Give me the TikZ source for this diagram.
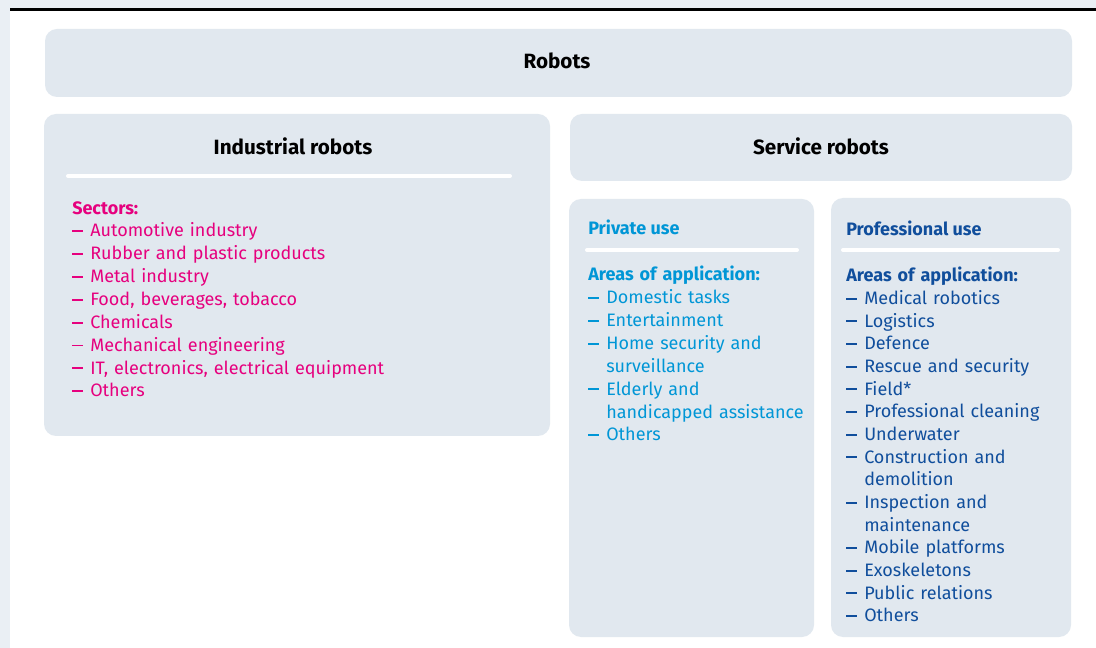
\documentclass[tikz,border=0pt]{standalone}
\usepackage{fontspec}
\setmainfont{Fira Sans}
\usepackage{tikz}
\usetikzlibrary{positioning}

\definecolor{strip}{RGB}{234,239,244}
\definecolor{boxfill}{RGB}{225,232,239}
\definecolor{magenta}{RGB}{230,0,126}
\definecolor{lightblue}{RGB}{0,150,214}
\definecolor{darkblue}{RGB}{16,78,156}

\tikzstyle{box}=[fill=boxfill, rounded corners=9pt]
\tikzstyle{rule}=[draw=white, line width=3pt, line cap=round]
\tikzstyle{title}=[font=\fontsize{15.5}{18}\selectfont\bfseries, inner sep=0pt]
\tikzstyle{sub}=[font=\fontsize{13.5}{17}\selectfont\bfseries, inner sep=0pt, anchor=west]
\tikzstyle{list}=[font=\fontsize{13.5}{17.15}\selectfont, inner sep=0pt, anchor=north west, align=left, text width=170pt]

\newcommand{\itm}[1]{\par\hangindent=13.5pt\hangafter=1\makebox[13.5pt][l]{\rule[0.27em]{0.58em}{1.4pt}}#1}

\begin{document}
\begin{tikzpicture}[x=0.75pt, y=-0.75pt]
		\useasboundingbox (0,0) rectangle (1096,648);
		% page
		\fill[strip] (0,0) rectangle (1096,648);
		\fill[white] (10,11) rectangle (1096,648);
		\draw[line width=1.8pt] (10,9.5) -- (1096,9.5);

		% boxes
		\path[box] (45,29) rectangle (1072,97);
		\path[box] (44,114) rectangle (550,436);
		\path[box] (570,114) rectangle (1072,181);
		\path[box] (569,199) rectangle (814,637);
		\path[box] (831,198) rectangle (1071,637);

		\draw[rule] (68,176) -- (510,176);
		\draw[rule] (587,250) -- (797,250);
		\draw[rule] (843,250) -- (1058,250);

		\node[style=title] (robots) at (557,61) {Robots};
		\node[style=title] (industrial) at (293,146) {Industrial robots};
		\node[style=title] (service) at (821,146) {Service robots};

		\node[style=sub, text=lightblue] (private) at (588,227) {Private use};
		\node[style=sub, text=darkblue] (professional) at (846,228) {Professional use};

		\node[style=list, text=magenta, text width=300pt] (sectors) at (72,201) {%
			\textbf{Sectors:}
			\itm{Automotive industry}
			\itm{Rubber and plastic products}
			\itm{Metal industry}
			\itm{Food, beverages, tobacco}
			\itm{Chemicals}
			\itm{Mechanical engineering}
			\itm{IT, electronics, electrical equipment}
			\itm{Others}};

		\node[style=list, text=lightblue] (privlist) at (588,266) {%
			\textbf{Areas of application:}
			\itm{Domestic tasks}
			\itm{Entertainment}
			\itm{Home security and\newline surveillance}
			\itm{Elderly and\newline handicapped assistance}
			\itm{Others}};

		\node[style=list, text=darkblue, font=\fontsize{13.5}{17}\selectfont] (proflist) at (846,267) {%
			\textbf{Areas of application:}
			\itm{Medical robotics}
			\itm{Logistics}
			\itm{Defence}
			\itm{Rescue and security}
			\itm{Field*}
			\itm{Professional cleaning}
			\itm{Underwater}
			\itm{Construction and\newline demolition}
			\itm{Inspection and\newline maintenance}
			\itm{Mobile platforms}
			\itm{Exoskeletons}
			\itm{Public relations}
			\itm{Others}};
	\end{tikzpicture}
\end{document}
